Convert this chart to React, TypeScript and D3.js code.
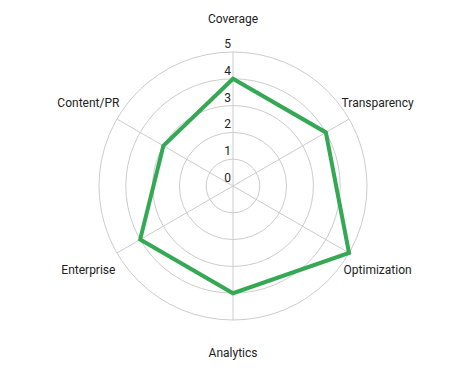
import React, { useEffect } from 'react';
import * as d3 from 'd3';

const categories = ['Coverage', 'Transparency', 'Optimization', 'Analytics', 'Enterprise', 'Content/PR'];
const scores = [4, 4, 5, 4, 4, 3];
const ticks = [0, 1, 2, 3, 4, 5];

const width = 466;
const height = 371;
const cx = 233;
const cy = 186;
const radius = 134;
const labelRadius = 167;

const App = () => {
  useEffect(() => {
    document.body.style.margin = '0';
  }, []);

  const r = d3.scaleLinear().domain([0, 5]).range([0, radius]);
  const angle = d3
    .scaleLinear()
    .domain([0, categories.length])
    .range([0, 2 * Math.PI]);

  const line = d3
    .lineRadial<number>()
    .angle((_, i) => angle(i))
    .radius((d) => r(d))
    .curve(d3.curveLinearClosed);

  return (
    <svg width={width} height={height} style={{ display: 'block', fontFamily: 'Roboto, sans-serif' }}>
      <g transform={`translate(${cx},${cy})`}>
        {ticks.slice(1).map((t) => (
          <circle key={t} r={r(t)} fill="none" stroke="#cccccc" strokeWidth={1} />
        ))}
        {categories.map((c, i) => {
          const a = angle(i);
          return (
            <line
              key={c}
              x1={0}
              y1={0}
              x2={Math.sin(a) * radius}
              y2={-Math.cos(a) * radius}
              stroke="#cccccc"
              strokeWidth={1}
            />
          );
        })}
        <path d={line(scores) || ''} fill="none" stroke="#34a853" strokeWidth={4} strokeLinejoin="miter" />
        {ticks.map((t) => (
          <text key={t} x={-2} y={-r(t) - 4} textAnchor="end" fontSize={12} fill="#222">
            {t}
          </text>
        ))}
        {categories.map((c, i) => {
          const a = angle(i);
          return (
            <text
              key={c}
              x={Math.sin(a) * labelRadius}
              y={-Math.cos(a) * labelRadius}
              textAnchor="middle"
              dominantBaseline="central"
              fontSize={12}
              fill="#222"
            >
              {c}
            </text>
          );
        })}
      </g>
    </svg>
  );
};

export default App;
